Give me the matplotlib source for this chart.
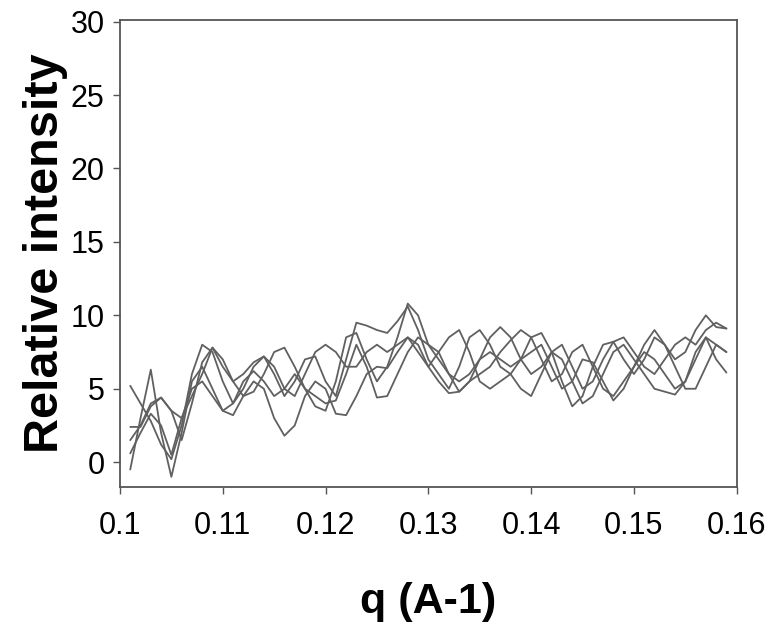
import numpy as np
import matplotlib.pyplot as plt

plt.rcParams['font.family'] = ['Liberation Sans', 'DejaVu Sans']

# q values (A-1)
q = np.arange(101, 160) / 1000.0

# five scattering curves
curve1 = [5.2, 4.0, 2.8, 1.2, 0.2, 2.5, 6.0, 8.0, 7.5, 5.5,
          4.0, 5.0, 6.5, 7.2, 6.0, 4.5, 5.5, 7.0, 7.2, 5.5,
          4.5, 7.0, 9.5, 9.3, 9.0, 8.8, 9.6, 10.6, 9.0, 7.0,
          6.0, 5.0, 6.5, 8.5, 9.0, 8.0, 6.5, 6.0, 7.0, 8.5,
          8.8, 7.5, 5.5, 3.8, 4.5, 6.5, 8.0, 8.2, 7.0, 6.0,
          7.0, 8.5, 8.0, 7.0, 7.5, 9.0, 10.0, 9.2, 9.1]
curve2 = [-0.5, 3.0, 6.3, 2.0, -1.0, 2.0, 5.5, 6.5, 5.0, 3.5,
          4.0, 5.5, 6.2, 5.5, 4.5, 5.0, 6.0, 5.0, 3.8, 3.5,
          5.5, 8.5, 8.8, 7.0, 5.5, 6.5, 8.5, 10.8, 10.0, 8.0,
          7.5, 6.0, 4.8, 5.5, 7.0, 7.5, 7.0, 6.5, 7.0, 7.5,
          8.0, 6.5, 5.0, 5.5, 7.0, 6.8, 5.5, 4.2, 5.0, 6.5,
          7.5, 7.0, 6.0, 5.0, 5.5, 7.0, 8.5, 7.0, 6.1]
curve3 = [2.4, 2.4, 3.8, 4.4, 3.5, 1.5, 4.0, 6.8, 7.8, 6.5,
          5.5, 6.0, 6.8, 7.2, 6.5, 5.0, 4.5, 6.0, 7.5, 8.0,
          7.5, 6.5, 6.5, 7.5, 8.0, 7.5, 8.0, 8.5, 8.0, 6.5,
          5.5, 4.7, 4.8, 5.5, 6.0, 6.5, 7.5, 8.3, 9.0, 8.5,
          7.0, 5.5, 6.0, 7.5, 8.0, 6.5, 5.0, 4.5, 5.5, 6.5,
          8.0, 9.0, 8.0, 6.5, 5.0, 5.0, 6.5, 8.0, 7.5]
curve4 = [0.6, 2.0, 3.3, 2.5, 0.5, 3.0, 5.0, 5.5, 4.5, 3.5,
          3.2, 4.5, 5.5, 5.0, 3.0, 1.8, 2.5, 4.5, 5.5, 5.0,
          3.3, 3.2, 4.5, 6.0, 6.5, 6.4, 7.5, 8.5, 7.5, 6.5,
          7.5, 8.5, 9.0, 7.5, 5.5, 5.0, 5.5, 6.0, 5.0, 4.5,
          6.0, 7.5, 7.0, 5.5, 4.0, 4.5, 6.0, 7.5, 8.0, 7.0,
          6.0, 5.0, 4.8, 4.6, 5.5, 7.5, 8.5, 8.0, 7.5]
curve5 = [1.5, 2.5, 4.0, 4.4, 3.5, 3.0, 4.5, 6.0, 7.8, 7.0,
          5.5, 4.5, 4.8, 6.0, 7.5, 7.8, 6.5, 5.0, 4.5, 4.0,
          4.2, 6.0, 8.0, 6.5, 4.4, 4.5, 6.0, 7.5, 8.5, 8.0,
          7.0, 6.0, 5.5, 6.0, 7.0, 8.5, 9.2, 8.5, 7.0, 6.0,
          6.5, 7.5, 8.0, 6.5, 5.0, 5.5, 7.0, 8.2, 8.5, 7.5,
          6.5, 6.0, 7.0, 8.0, 8.5, 8.0, 9.0, 9.5, 9.1]

xticks = [0.1, 0.11, 0.12, 0.13, 0.14, 0.15, 0.16]
xtick_labels = ['0.1', '0.11', '0.12', '0.13', '0.14', '0.15', '0.16']
yticks = [0, 5, 10, 15, 20, 25, 30]

fig = plt.figure(figsize=(7.69, 6.31), dpi=100)
ax = fig.add_axes([0.156, 0.228, 0.802, 0.74])

for c in [curve1, curve2, curve3, curve4, curve5]:
    ax.plot(q, c, color='#606060', linewidth=1.3,
            solid_joinstyle='round', solid_capstyle='round')

ax.set_xlim(0.1, 0.16)
ax.set_ylim(-1.7, 30.1)
ax.set_xticks(xticks)
ax.set_xticklabels(xtick_labels)
ax.set_yticks(yticks)
ax.tick_params(direction='out', length=5, width=1, color='#555555',
               labelsize=22)
ax.tick_params(axis='x', pad=12)
ax.tick_params(axis='y', pad=6)

for s in ax.spines.values():
    s.set_color('#555555')
    s.set_linewidth(1.3)

ax.set_xlabel('q (A-1)', fontsize=31, fontweight='bold', labelpad=30)
ax.set_ylabel('Relative intensity', fontsize=35, fontweight='bold', labelpad=2)

fig.savefig('out.png', dpi=100)
